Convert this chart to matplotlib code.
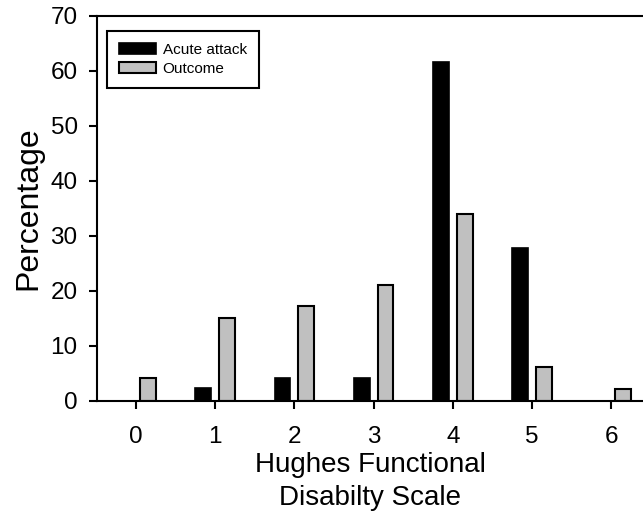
import numpy as np
import matplotlib.pyplot as plt

plt.rcParams['font.family'] = ['Liberation Sans', 'DejaVu Sans']

# Hughes scale grades and percentages
grades = [0, 1, 2, 3, 4, 5, 6]
acute = [0, 2.4, 4.2, 4.2, 61.6, 27.8, 0]
outcome = [4.2, 15.1, 17.3, 21.1, 34.0, 6.2, 2.2]

fig = plt.figure(figsize=(6.43, 5.30), dpi=100)
ax = fig.add_axes([0.151, 0.2434, 0.849, 0.7266])

x = np.array(grades)
w = 0.2
ax.bar(x - 0.15, acute, w, color='black', edgecolor='black', linewidth=1.2,
       label='Acute attack')
ax.bar(x + 0.15, outcome, w, color='#c0c0c0', edgecolor='black', linewidth=1.5,
       label='Outcome')

ax.set_xlim(-0.49, 6.4)
ax.set_ylim(0, 70)
ax.set_xticks(grades)
ax.set_yticks(range(0, 71, 10))

ax.spines['right'].set_visible(False)
for s in ['left', 'top', 'bottom']:
    ax.spines[s].set_linewidth(1.5)
ax.tick_params(direction='out', length=6, width=1.5, labelsize=17.5)
ax.tick_params(axis='x', pad=12)
ax.tick_params(axis='y', pad=8)

ax.set_ylabel('Percentage', fontsize=23, labelpad=5)
ax.set_xlabel('Hughes Functional\nDisabilty Scale', fontsize=20, labelpad=3,
              linespacing=1.35)

leg = ax.legend(loc='upper left', bbox_to_anchor=(0.018, 0.961), fontsize=11,
                frameon=True, fancybox=False, edgecolor='black', framealpha=1,
                handlelength=2.4, handleheight=0.75, borderpad=0.8,
                labelspacing=0.3, handletextpad=0.45, borderaxespad=0)
leg.get_frame().set_linewidth(1.5)

fig.savefig('out.png', dpi=100)
